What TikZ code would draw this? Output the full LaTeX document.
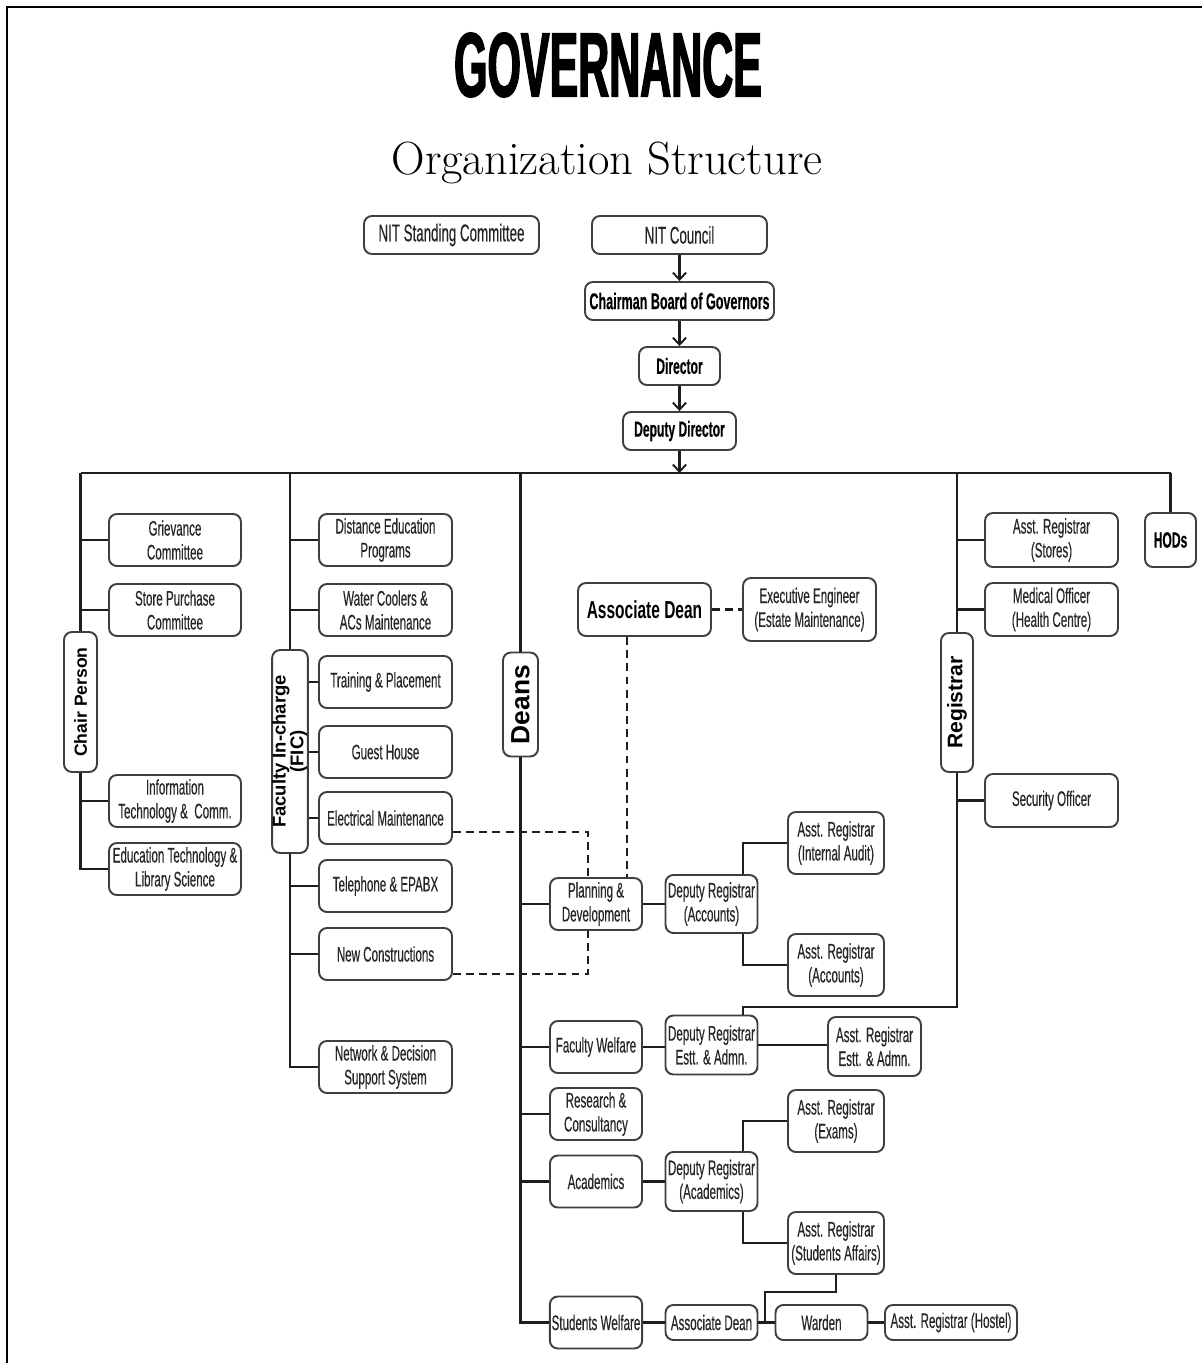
\documentclass[tikz,border=0pt]{standalone}
\usepackage{fontspec}
\usepackage{graphicx}
\usepackage{tikz}
\usetikzlibrary{%
  arrows,%
  arrows.meta,% wg. Straight Barb
  calc,% wg. xshift/yshift an Ankern
}
\newfontfamily\boxfont[FakeStretch=0.55,FakeBold=0.3]{Liberation Sans}
\newfontfamily\deanfont[FakeStretch=0.63]{Liberation Sans}
\newfontfamily\sidefont{Liberation Sans}
\newfontfamily\govfont[FakeStretch=0.47,FakeBold=1.5]{Liberation Sans}
\definecolor{boxline}{HTML}{3F3F3F}
\definecolor{boxtext}{HTML}{262626}
\definecolor{linecol}{HTML}{1E1E1E}
\tikzset{%
  sz/.style 2 args={minimum width=#1cm, minimum height=#2cm},
  orgbox/.style={draw=boxline, line width=1.1pt, rounded corners=4.5pt, fill=white,
    text=boxtext, align=center, inner sep=1pt,
    font=\boxfont\fontsize{12}{13.6}\selectfont},
  boldbox/.style={orgbox, text=black, font=\boxfont\bfseries\fontsize{12.5}{14}\selectfont},
  sidebox/.style={orgbox, text=black, inner sep=0pt,
    font=\sidefont\bfseries\fontsize{10}{10}\selectfont},
  conn/.style={draw=linecol, line width=1.3pt},
  dashconn/.style={conn, dash pattern=on 4.5pt off 3pt},
  downarrow/.style={conn, -{Straight Barb[length=4pt,width=7.5pt,line width=1.1pt]}},
}

\begin{document}
\begin{tikzpicture}[x=0.02cm, y=-0.02cm]
    \useasboundingbox (0,0) rectangle (1202,1363);
    \draw[line width=1.1pt] (7,1363) -- (7,7) -- (1202,7);

    \node (gov) at (608,65) {\govfont\bfseries\fontsize{52}{52}\selectfont GOVERNANCE};
    \node (org) at (607,163) {\fontsize{26.5}{26.5}\selectfont Organization Structure};

    \node[orgbox, sz={3.5}{0.76}, font=\boxfont\fontsize{13.8}{15}\selectfont] (nsc) at (451.5,235) {NIT Standing Committee};
    \node[orgbox, sz={3.5}{0.76}, font=\boxfont\fontsize{13.8}{15}\selectfont] (ncl) at (679.5,235) {NIT Council};
    \node[boldbox, sz={3.78}{0.76}, font=\boxfont\bfseries\fontsize{13}{14}\selectfont] (cbg) at (679.5,301) {Chairman Board of Governors};
    \node[boldbox, sz={1.62}{0.76}] (dir) at (679.5,366) {Director};
    \node[boldbox, sz={2.26}{0.76}] (ddr) at (679.5,431) {Deputy Director};

    \coordinate (cpTop) at (80.5,473);
    \coordinate (ficTop) at (290,473);
    \coordinate (dnsTop) at (520.5,473);
    \coordinate (regTop) at (957,473);
    \coordinate (hodTop) at (1170.5,473);

    \draw[downarrow] (ncl) -- (cbg);
    \draw[downarrow] (cbg) -- (dir);
    \draw[downarrow] (dir) -- (ddr);
    \draw[downarrow] (ddr.south) -- (ddr.south |- cpTop);
    \draw[conn] (cpTop) -- (hodTop);

    % Chair Person
    \node[sidebox, sz={0.66}{2.8}] (chp) at (80.5,702) {\rotatebox{90}{Chair Person}};
    \node[orgbox, sz={2.64}{1.04}] (grv) at (175,540) {Grievance\\Committee};
    \node[orgbox, sz={2.64}{1.04}] (spc) at (175,610) {Store Purchase\\Committee};
    \node[orgbox, sz={2.64}{1.04}] (itc) at (175,801) {Information\\Technology \&\ \ Comm.};
    \node[orgbox, sz={2.64}{1.04}] (etl) at (175,869) {Education Technology \&\\Library Science};
    \draw[conn] (cpTop) -- (chp.north);
    \draw[conn] (chp.south) |- (etl.west);
    \draw[conn] (grv.west) -- (grv.west -| cpTop);
    \draw[conn] (spc.west) -- (spc.west -| cpTop);
    \draw[conn] (itc.west) -- (itc.west -| cpTop);

    % Faculty In-charge
    \node[sidebox, sz={0.70}{4.06}, font=\sidefont\bfseries\fontsize{10.5}{8.5}\selectfont] (fic) at (290,751.5)
        {\rotatebox{90}{\begin{tabular}{@{}c@{}}Faculty In-charge\\(FIC)\end{tabular}}};
    \node[orgbox, sz={2.66}{1.04}] (dep) at (385.5,540) {Distance Education\\Programs};
    \node[orgbox, sz={2.66}{1.04}] (wcm) at (385.5,610) {Water Coolers \&\\ACs Maintenance};
    \node[orgbox, sz={2.66}{1.04}] (tpl) at (385.5,682) {Training \& Placement};
    \node[orgbox, sz={2.66}{1.04}] (ghs) at (385.5,752) {Guest House};
    \node[orgbox, sz={2.66}{1.04}] (elm) at (385.5,818) {Electrical Maintenance};
    \node[orgbox, sz={2.66}{1.04}] (tel) at (385.5,886) {Telephone \& EPABX};
    \node[orgbox, sz={2.66}{1.04}] (ncn) at (385.5,954) {New Constructions};
    \node[orgbox, sz={2.66}{1.04}] (nds) at (385.5,1067) {Network \& Decision\\Support System};
    \draw[conn] (ficTop) -- (fic.north);
    \draw[conn] (fic.south) |- (nds.west);
    \draw[conn] (dep.west) -- (dep.west -| ficTop);
    \draw[conn] (wcm.west) -- (wcm.west -| ficTop);
    \draw[conn] (tpl.west) -- (tpl.west -| fic.east);
    \draw[conn] (ghs.west) -- (ghs.west -| fic.east);
    \draw[conn] (elm.west) -- (elm.west -| fic.east);
    \draw[conn] (tel.west) -- (tel.west -| ficTop);
    \draw[conn] (ncn.west) -- (ncn.west -| ficTop);

    % Deans
    \node[sidebox, sz={0.70}{2.08}, font=\sidefont\bfseries\fontsize{15}{15}\selectfont] (dns) at (520.5,704.5)
        {\rotatebox{90}{Deans}};
    \node[orgbox, sz={2.66}{1.06}, text=black, font=\deanfont\bfseries\fontsize{14}{15}\selectfont] (ad) at (644.5,609.5) {Associate Dean};
    \node[orgbox, sz={2.66}{1.26}] (ee) at (809.5,609.5) {Executive Engineer\\(Estate Maintenance)};
    \node[orgbox, sz={1.84}{1.04}] (pd) at (596,904) {Planning \&\\Development};
    \node[orgbox, sz={1.84}{1.16}] (dra) at (711.5,904) {Deputy Registrar\\(Accounts)};
    \node[orgbox, sz={1.92}{1.24}] (ai) at (836,843) {Asst. Registrar\\(Internal Audit)};
    \node[orgbox, sz={1.92}{1.24}] (aa) at (836,965) {Asst. Registrar\\(Accounts)};
    \node[orgbox, sz={1.84}{1.04}] (fw) at (596,1047) {Faculty Welfare};
    \node[orgbox, sz={1.84}{1.18}] (dre) at (711.5,1045) {Deputy Registrar\\Estt. \& Admn.};
    \node[orgbox, sz={1.86}{1.18}] (are) at (874.5,1046.5) {Asst. Registrar\\Estt. \& Admn.};
    \node[orgbox, sz={1.84}{1.04}] (rc) at (596,1114) {Research \&\\Consultancy};
    \node[orgbox, sz={1.84}{1.04}] (ac) at (596,1181.5) {Academics};
    \node[orgbox, sz={1.84}{1.18}] (drc) at (711.5,1181.5) {Deputy Registrar\\(Academics)};
    \node[orgbox, sz={1.92}{1.24}] (aex) at (836,1121) {Asst. Registrar\\(Exams)};
    \node[orgbox, sz={1.92}{1.24}] (asa) at (836,1243) {Asst. Registrar\\(Students Affairs)};
    \node[orgbox, sz={1.84}{1.04}] (sw) at (596,1322.5) {Students Welfare};
    \node[orgbox, sz={1.84}{0.70}] (ads) at (711.5,1322.5) {Associate Dean};
    \node[orgbox, sz={1.84}{0.70}] (wd) at (821.5,1322.5) {Warden};
    \node[orgbox, sz={2.64}{0.70}] (arh) at (951,1322.5) {Asst. Registrar (Hostel)};
    \coordinate (wdk) at (765,1292);

    \draw[conn] (dnsTop) -- (dns.north);
    \draw[conn] (dns.south) |- (sw.west);
    \draw[conn] (pd.west) -- (pd.west -| dnsTop);
    \draw[conn] (fw.west) -- (fw.west -| dnsTop);
    \draw[conn] (rc.west) -- (rc.west -| dnsTop);
    \draw[conn] (ac.west) -- (ac.west -| dnsTop);
    \draw[conn] (pd) -- (dra);
    \draw[conn] ([xshift=0.63cm]dra.north) |- (ai.west);
    \draw[conn] ([xshift=0.63cm]dra.south) |- (aa.west);
    \draw[conn] (fw) -- (dre.west |- fw);
    \draw[conn] (dre.east) -- (are.west |- dre.east);
    \draw[conn] (ac) -- (drc);
    \draw[conn] ([xshift=0.63cm]drc.north) |- (aex.west);
    \draw[conn] ([xshift=0.63cm]drc.south) |- (asa.west);
    \draw[conn] (sw) -- (ads);
    \draw[conn] (ads) -- (wd);
    \draw[conn] (wd) -- (arh);
    \draw[conn] (asa.south) |- (wdk) -- (wdk |- wd.west);

    \draw[dashconn] (ad) -- (ee);
    \draw[dashconn] ([xshift=-0.35cm]ad.south) -- ([xshift=-0.35cm]ad.south |- pd.north);
    \draw[dashconn] ([yshift=-0.28cm]elm.east) -| ([xshift=-0.16cm]pd.north);
    \draw[dashconn] ([yshift=-0.4cm]ncn.east) -| ([xshift=-0.16cm]pd.south);

    % Registrar
    \node[sidebox, sz={0.64}{2.78}, font=\sidefont\bfseries\fontsize{12}{12}\selectfont] (reg) at (957,702.5)
        {\rotatebox{90}{Registrar}};
    \node[orgbox, sz={2.66}{1.08}] (ars) at (1051.5,540) {Asst. Registrar\\(Stores)};
    \node[orgbox, sz={2.66}{1.06}] (mof) at (1051.5,609.5) {Medical Officer\\(Health Centre)};
    \node[orgbox, sz={2.66}{1.06}] (sof) at (1051.5,800.5) {Security Officer};
    \node[boldbox, sz={1.02}{1.08}] (hod) at (1170.5,540) {HODs};
    \coordinate (regk) at (743,1007);
    \draw[conn] (regTop) -- (reg.north);
    \draw[conn] (reg.south) |- (regk) -- (regk |- dre.north);
    \draw[conn] (ars.west) -- (ars.west -| regTop);
    \draw[conn] (mof.west) -- (mof.west -| regTop);
    \draw[conn] (sof.west) -- (sof.west -| regTop);
    \draw[conn] (hodTop) -- (hod.north);
\end{tikzpicture}
\end{document}
